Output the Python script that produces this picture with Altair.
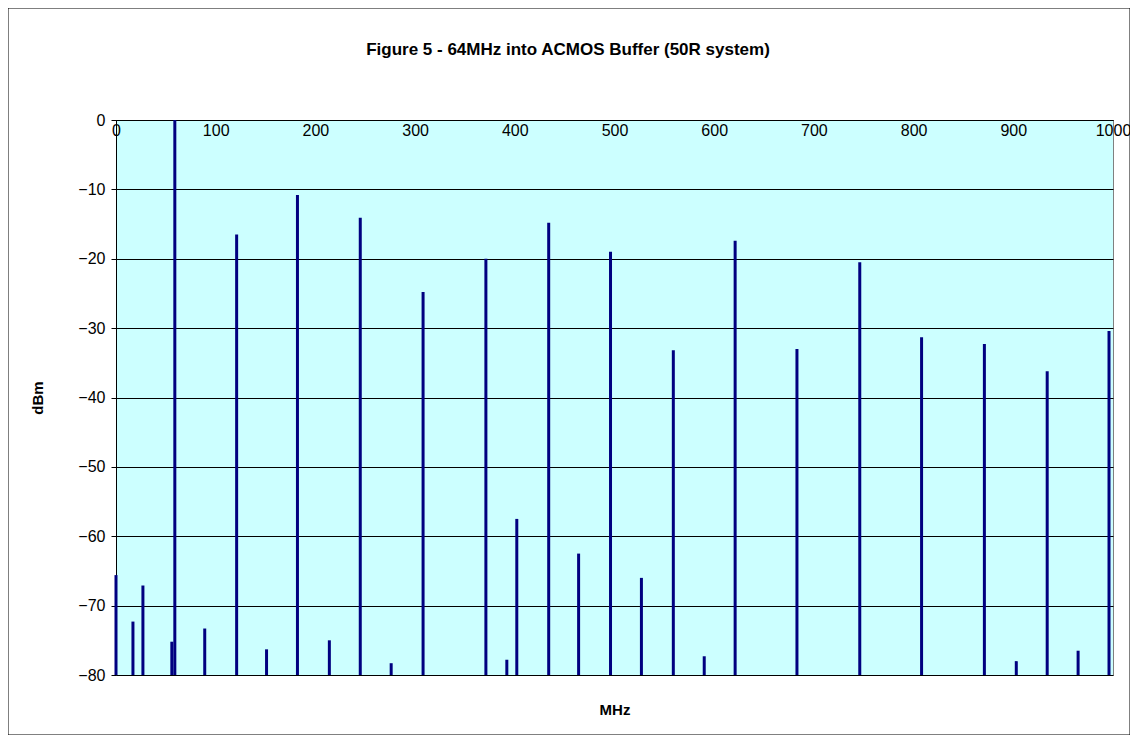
import altair as alt
import pandas as pd

FREQ_MHZ = [0, 17, 27, 56, 59, 89, 121, 151, 182, 214, 245, 276, 308, 371, 392, 402,
            434, 464, 496, 527, 559, 590, 621, 683, 746, 808, 871, 903, 934, 965, 996]
LEVEL_DBM = [-65.6, -72.3, -67.1, -75.2, 0, -73.3, -16.5, -76.3, -10.8, -75.0, -14.1, -78.3,
             -24.8, -20.0, -77.8, -57.5, -14.8, -62.5, -19.0, -66.0, -33.2, -77.3, -17.4,
             -33.0, -20.5, -31.3, -32.3, -78.0, -36.2, -76.5, -30.4]

TITLE = "Figure 5 - 64MHz into ACMOS Buffer (50R system)"
FONT = "Liberation Sans"
W, H = 997, 555

df = pd.DataFrame({"MHz": FREQ_MHZ, "dBm": LEVEL_DBM, "base": -80})

spikes = alt.Chart(df).mark_rule(color="#000080", strokeWidth=3).encode(
    x=alt.X("MHz:Q", scale=alt.Scale(domain=[0, 1000], nice=False),
            axis=alt.Axis(values=list(range(0, 1001, 100)), offset=-H, grid=False,
                          ticks=False, domainColor="#000000", labelFontSize=16,
                          labelColor="#000000", labelFont=FONT, format="d",
                          title="MHz", titleY=582, titleFontSize=15, titleFont=FONT,
                          labelPadding=2, labelFlush=False, labelOverlap=False)),
    y=alt.Y("dBm:Q", scale=alt.Scale(domain=[-80, 0], nice=False),
            axis=alt.Axis(values=list(range(-80, 1, 10)), gridColor="#000000",
                          gridOpacity=1, domainColor="#000000", tickColor="#000000",
                          labelFontSize=16, labelColor="#000000", labelFont=FONT,
                          title="dBm", titleFontSize=15, titleFont=FONT,
                          titlePadding=32, labelPadding=6)),
    y2="base:Q",
)

title = alt.Chart(df.head(1)).mark_text(
    text=TITLE, fontSize=17, fontWeight="bold", font=FONT, color="#000000"
).encode(x=alt.value(452), y=alt.value(-70))

frame = alt.Chart(df.head(1)).mark_rect(
    fill=None, stroke="#000000", strokeWidth=1
).encode(x=alt.value(-108), x2=alt.value(1014), y=alt.value(-112), y2=alt.value(615))

chart = alt.layer(spikes, title, frame).properties(
    width=W, height=H, autosize="none",
    padding={"left": 108, "top": 112, "right": 17, "bottom": 60},
).configure_view(fill="#CCFFFF", stroke="#808080").configure_axisX(
    titleFontWeight="bold"
).configure_axisY(titleFontWeight="bold")

chart.save("out.html", embed_options={"renderer": "svg", "actions": False})
